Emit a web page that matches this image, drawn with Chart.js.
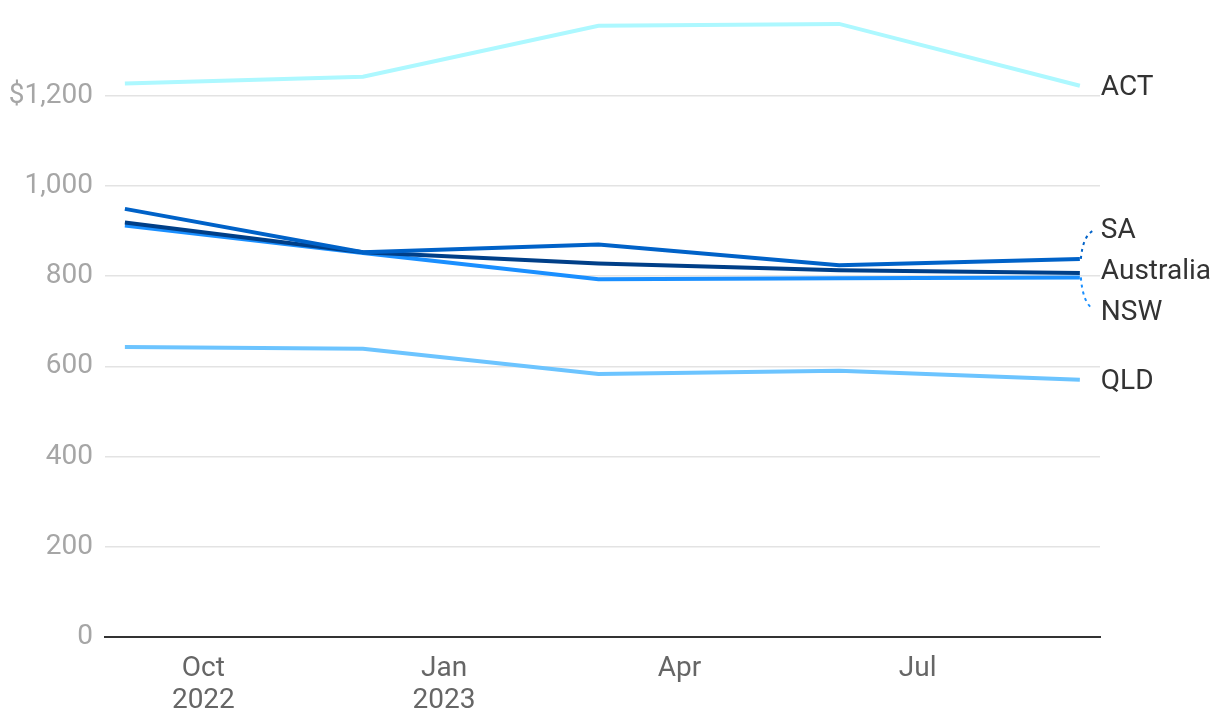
<!DOCTYPE html>
<html>
<head>
<meta charset="utf-8">
<script src="https://cdn.jsdelivr.net/npm/chart.js@4/dist/chart.umd.min.js"></script>
<style>
  html, body { margin: 0; padding: 0; background: #fff; }
  #wrap { width: 1220px; height: 726px; position: relative; }
</style>
</head>
<body>
<div id="wrap"><canvas id="rentChart"></canvas></div>
<script>
// data (quarterly, weekly rent $)
const dates = ["2022-09-01", "2022-12-01", "2023-03-01", "2023-06-01", "2023-09-01"];
const seriesNames = ["SA", "Australia", "NSW", "QLD", "ACT"];
const saValues = [949, 853, 870, 824, 838];
const australiaValues = [919, 853, 828, 813, 807];
const nswValues = [912, 851, 793, 795, 797];
const qldValues = [643, 639, 583, 590, 570];
const actValues = [1227, 1242, 1355, 1359, 1222];
const seriesColors = ["#0062c8", "#003f88", "#1a8fff", "#6cc4ff", "#adf8ff"];

const tickDates = ["2022-10-01", "2023-01-01", "2023-04-01", "2023-07-01"];
const tickLabels = [["Oct", "2022"], ["Jan", "2023"], ["Apr"], ["Jul"]];
const yTicks = [0, 200, 400, 600, 800, 1000, 1200];

// days since first date, so a linear scale can stand in for a time axis
const t0 = Date.UTC(2022, 8, 1);
function dayOf(s) {
  const p = s.split("-").map(Number);
  return (Date.UTC(p[0], p[1] - 1, p[2]) - t0) / 86400000;
}

const allValues = [saValues, australiaValues, nswValues, qldValues, actValues];
const datasets = seriesNames.map((name, i) => ({
  label: name,
  data: dates.map((d, j) => ({ x: dayOf(d), y: allValues[i][j] })),
  borderColor: seriesColors[i],
  borderWidth: 4,
  pointRadius: 0,
  tension: 0,
  fill: false,
}));

// end labels with a small collision pass, dotted leader when pushed away
const endLabels = {
  id: "endLabels",
  afterDatasetsDraw(chart) {
    const ctx = chart.ctx;
    const gap = 41;
    let items = chart.data.datasets.map((ds, i) => {
      const meta = chart.getDatasetMeta(i);
      const pt = meta.data[meta.data.length - 1];
      return { name: ds.label, color: ds.borderColor, px: pt.x, py: pt.y, ly: pt.y };
    });
    items.sort((a, b) => a.py - b.py);
    // group overlapping labels and centre each group on its mean
    let groups = items.map(it => ({ members: [it], center: it.py }));
    let merged = true;
    while (merged) {
      merged = false;
      for (let k = 0; k < groups.length - 1; k++) {
        const a = groups[k], b = groups[k + 1];
        const aBottom = a.center + (a.members.length - 1) * gap / 2;
        const bTop = b.center - (b.members.length - 1) * gap / 2;
        if (bTop - aBottom < gap) {
          const members = a.members.concat(b.members);
          const center = members.reduce((s, m) => s + m.py, 0) / members.length;
          groups.splice(k, 2, { members, center });
          merged = true;
          break;
        }
      }
    }
    groups.forEach(g => {
      const start = g.center - (g.members.length - 1) * gap / 2;
      g.members.forEach((m, idx) => { m.ly = start + idx * gap; });
    });

    ctx.save();
    ctx.font = "28px Roboto";
    ctx.fillStyle = "#333333";
    ctx.textAlign = "left";
    ctx.textBaseline = "middle";
    items.forEach(it => {
      const lx = it.px + 21;
      if (Math.abs(it.ly - it.py) > 12) {
        ctx.save();
        ctx.strokeStyle = it.color;
        ctx.lineWidth = 2;
        ctx.setLineDash([3, 4]);
        ctx.beginPath();
        ctx.moveTo(it.px + 1, it.py);
        ctx.quadraticCurveTo(it.px + 3, it.ly + (it.py - it.ly) * 0.25, it.px + 13, it.ly + (it.py > it.ly ? 2 : -2));
        ctx.stroke();
        ctx.restore();
      }
      ctx.fillText(it.name, lx, it.ly + 2);
    });
    ctx.restore();
  }
};

new Chart(document.getElementById("rentChart"), {
  type: "line",
  data: { datasets },
  plugins: [endLabels],
  options: {
    responsive: true,
    maintainAspectRatio: false,
    animation: false,
    layout: { padding: { top: 0, right: 120, bottom: 0, left: 0 } },
    plugins: { legend: { display: false }, tooltip: { enabled: false } },
    scales: {
      x: {
        type: "linear",
        min: -7.6,
        max: 372.7,
        afterBuildTicks: axis => { axis.ticks = tickDates.map(d => ({ value: dayOf(d) })); },
        afterFit: axis => { axis.height = 89; axis.paddingLeft = 0; axis.paddingRight = 0; },
        grid: { display: false, drawTicks: false },
        border: { display: true, color: "#333333", width: 2 },
        ticks: {
          callback: (v) => {
            const k = tickDates.findIndex(d => dayOf(d) === v);
            return k >= 0 ? tickLabels[k] : "";
          },
          color: "#666666",
          padding: 16,
          maxRotation: 0,
          autoSkip: false,
          font: { family: "Roboto", size: 28, lineHeight: 1.15 },
        },
      },
      y: {
        min: 0,
        max: 1412,
        afterBuildTicks: axis => { axis.ticks = yTicks.map(v => ({ value: v })); },
        afterFit: axis => { axis.width = 105; axis.paddingTop = 0; axis.paddingBottom = 0; },
        grid: { color: "#e3e3e3", lineWidth: 1.5, drawTicks: false },
        border: { display: false },
        ticks: {
          callback: v => (v === 1200 ? "$" : "") + v.toLocaleString("en-US"),
          color: "#a6a6a6",
          padding: 12,
          font: { family: "Roboto", size: 28 },
        },
      },
    },
  },
});
</script>
</body>
</html>
